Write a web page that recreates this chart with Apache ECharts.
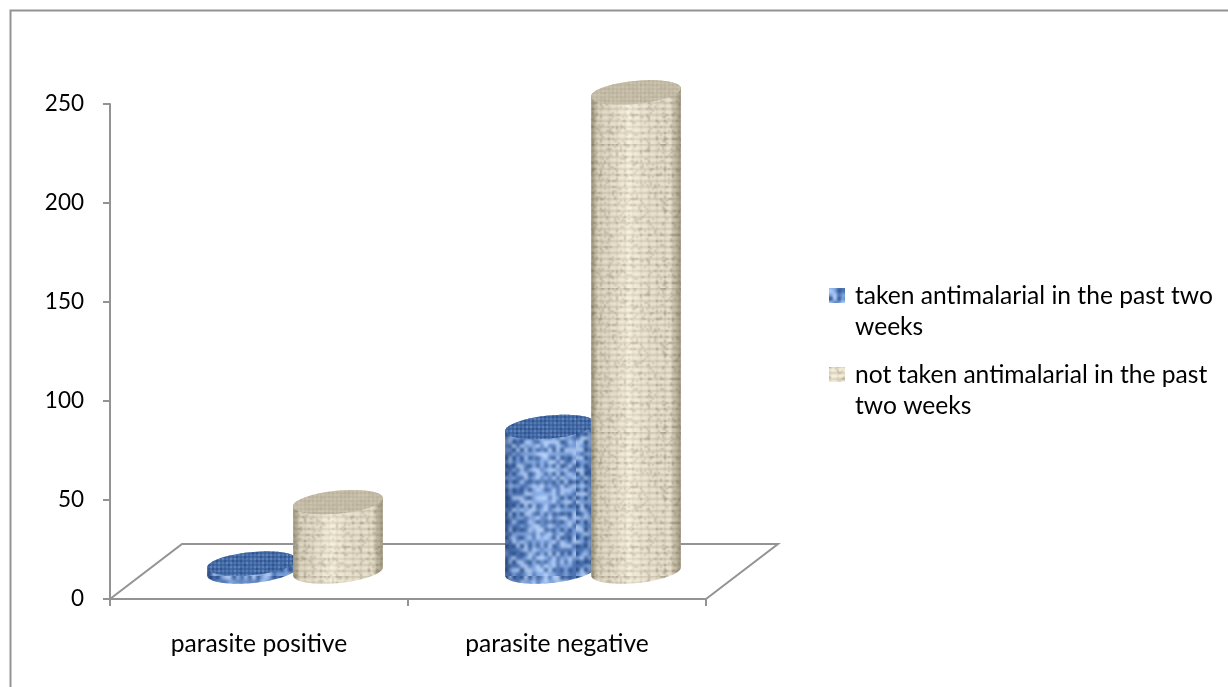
<!DOCTYPE html>
<html>
<head>
<meta charset="utf-8">
<script src="https://cdn.jsdelivr.net/npm/echarts@6/dist/echarts.min.js"></script>
<style>html,body{margin:0;padding:0;background:#fff}#c{width:1228px;height:687px}</style>
</head>
<body>
<div id="c"></div>
<script>
// ---- data ----
var categories = ['parasite positive', 'parasite negative'];
var taken = [4, 73];
var notTaken = [35, 242];
var yTicks = [0, 50, 100, 150, 200, 250];
var seriesNames = ['taken antimalarial in the past two\nweeks', 'not taken antimalarial in the past\ntwo weeks'];

// ---- appearance ----
var AXIS = '#939393', TEXT = '#000000', FONT = 'Lato';
var DEPTH_X = 72, DEPTH_Y = 55, RX = 45, RY = 11.5, SPACING = 43, TILT = -5.5 * Math.PI / 180;

function noise(x, y, s) {
  var v = Math.sin(x * 127.1 + y * 311.7 + s * 74.7) * 43758.5453;
  return v - Math.floor(v);
}
function lowRes(n, paint) {
  var c = document.createElement('canvas'); c.width = c.height = n;
  var g = c.getContext('2d');
  for (var y = 0; y < n; y++) for (var x = 0; x < n; x++) { g.fillStyle = paint(x, y); g.fillRect(x, y, 1, 1); }
  return c;
}
function scaled(src, k) {
  var c = document.createElement('canvas'); c.width = c.height = src.width * k;
  var g = c.getContext('2d'); g.imageSmoothingEnabled = true; g.imageSmoothingQuality = 'high';
  g.drawImage(src, 0, 0, c.width, c.height);
  return { image: c, repeat: 'repeat' };
}
var blueSide = scaled(lowRes(48, function (x, y) {
  var n = noise(x, y, 1), weave = (x % 2 === 0 && y % 2 === 0);
  if (weave && n < 0.75) return '#2f5590';
  if (n < 0.3) return '#5078b8';
  if (n < 0.7) return '#7fa6e2';
  return '#b0cdf8';
}), 4);
var blueTop = scaled(lowRes(48, function (x, y) {
  var n = noise(x, y, 2);
  if (x % 2 === 0 && y % 2 === 0) return n < 0.5 ? '#264680' : '#325690';
  if (x % 2 === 0 || y % 2 === 0) return '#3f659f';
  return n < 0.5 ? '#5f88c8' : '#7298d4';
}), 2);
var tanSide = scaled(lowRes(72, function (x, y) {
  var n = noise(x, y, 3), line = (y % 3 === 0) ? 1 : 0, col = (x % 4 === 0) ? 1 : 0;
  var d = line * 26 + col * 14 + (n < 0.16 ? 38 : n * 8) - 6;
  return 'rgb(' + Math.round(243 - d) + ',' + Math.round(235 - d) + ',' + Math.round(216 - d * 1.05) + ')';
}), 2);
var tanTop = scaled(lowRes(64, function (x, y) {
  var n = noise(x, y, 4), d = ((x % 2 === 0) ? 12 : 0) + ((y % 2 === 0) ? 12 : 0) + n * 10;
  return 'rgb(' + Math.round(212 - d) + ',' + Math.round(203 - d) + ',' + Math.round(182 - d) + ')';
}), 2);

function ellipsePoints(cx, cy, from, to, steps) {
  var pts = [];
  for (var i = 0; i <= steps; i++) {
    var t = from + (to - from) * i / steps;
    var ex = RX * Math.cos(t), ey = RY * Math.sin(t);
    pts.push([cx + ex * Math.cos(TILT) - ey * Math.sin(TILT), cy + ex * Math.sin(TILT) + ey * Math.cos(TILT)]);
  }
  return pts;
}
function shade(rgbDark, rgbLight) {
  return {
    type: 'linear', x: 0, y: 0, x2: 1, y2: 0,
    colorStops: [
      { offset: 0, color: 'rgba(' + rgbDark + ',0.55)' },
      { offset: 0.08, color: 'rgba(' + rgbDark + ',0.15)' },
      { offset: 0.42, color: 'rgba(' + rgbLight + ',0.25)' },
      { offset: 0.88, color: 'rgba(' + rgbDark + ',0.08)' },
      { offset: 1, color: 'rgba(' + rgbDark + ',0.55)' }
    ]
  };
}
function cylinderRenderer(side, offsetDir, topFill, dark, light) {
  return function (params, api) {
    var base = api.coord([api.value(0), 0]);
    var top = api.coord([api.value(0), api.value(1)]);
    var cx = base[0] + DEPTH_X / 2 + offsetDir * SPACING;
    var by = base[1] - DEPTH_Y / 2, ty = top[1] - DEPTH_Y / 2;
    var body = ellipsePoints(cx, by, 0, Math.PI, 48).concat(ellipsePoints(cx, ty, Math.PI, 2 * Math.PI, 48));
    var cap = ellipsePoints(cx, ty, 0, Math.PI * 2, 96);
    return {
      type: 'group',
      children: [
        { type: 'polygon', shape: { points: body }, style: { fill: side } },
        { type: 'polygon', shape: { points: body }, style: { fill: shade(dark, light) } },
        { type: 'polygon', shape: { points: cap }, style: { fill: topFill } }
      ]
    };
  };
}
function floorRenderer(params) {
  var r = params.coordSys, x0 = r.x, x1 = r.x + r.width, y0 = r.y + r.height;
  return {
    type: 'polyline',
    shape: { points: [[x0, y0], [x0 + DEPTH_X, y0 - DEPTH_Y], [x1 + DEPTH_X, y0 - DEPTH_Y], [x1, y0]] },
    style: { stroke: AXIS, lineWidth: 2, fill: 'none' }
  };
}
// swatch sits beside the first text line; the degenerate segments only stretch the icon's box
var legendIcon = 'path://M0 7H16V22H0Z M0 0H21Z M0 62H21Z';

var chart = echarts.init(document.getElementById('c'));
chart.setOption({
  animation: false,
  backgroundColor: '#fff',
  graphic: [{
    type: 'polyline', silent: true,
    shape: { points: [[10.5, 687], [10.5, 10.5], [1228, 10.5]] },
    style: { stroke: AXIS, lineWidth: 2, fill: 'none' }
  }],
  grid: { left: 110, right: 522, top: 104, bottom: 88 },
  legend: {
    left: 829, top: 281, orient: 'vertical', itemGap: 17, itemWidth: 21, itemHeight: 62,
    icon: legendIcon, selectedMode: false,
    data: seriesNames,
    textStyle: { fontFamily: FONT, fontSize: 24.6, color: TEXT, lineHeight: 31 },
    padding: 0
  },
  xAxis: {
    type: 'category', data: categories,
    axisLine: { lineStyle: { color: AXIS, width: 2 } },
    axisTick: { show: true, length: 7, lineStyle: { color: AXIS, width: 2 } },
    axisLabel: { fontFamily: FONT, fontSize: 24.6, color: TEXT, margin: 33 },
    splitLine: { show: false }
  },
  yAxis: {
    type: 'value', min: yTicks[0], max: yTicks[yTicks.length - 1], interval: yTicks[1] - yTicks[0],
    axisLine: { show: true, lineStyle: { color: AXIS, width: 2 } },
    axisTick: { show: true, length: 7, lineStyle: { color: AXIS, width: 2 } },
    axisLabel: { fontFamily: FONT, fontSize: 22.5, color: TEXT, margin: 26, padding: [8, 0, 0, 0] },
    splitLine: { show: false }
  },
  series: [
    { name: 'floor', type: 'custom', coordinateSystem: 'cartesian2d', silent: true, renderItem: floorRenderer, data: [[0, 0]], z: 1 },
    {
      name: seriesNames[0], type: 'custom', coordinateSystem: 'cartesian2d', z: 2,
      itemStyle: { color: blueSide },
      renderItem: cylinderRenderer(blueSide, -1, blueTop, '20,45,95', '190,215,255'),
      encode: { x: 0, y: 1 },
      data: taken.map(function (v, i) { return [i, v]; })
    },
    {
      name: seriesNames[1], type: 'custom', coordinateSystem: 'cartesian2d', z: 3,
      itemStyle: { color: tanSide },
      renderItem: cylinderRenderer(tanSide, 1, tanTop, '90,80,55', '255,250,235'),
      encode: { x: 0, y: 1 },
      data: notTaken.map(function (v, i) { return [i, v]; })
    }
  ]
});
</script>
</body>
</html>
